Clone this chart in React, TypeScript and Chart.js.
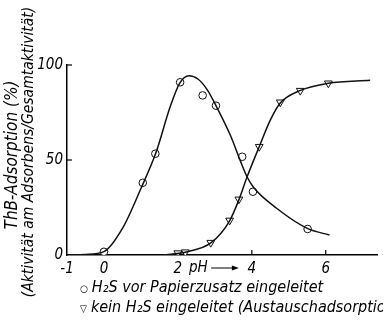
import React, { useEffect, useRef } from "react";
import { Chart, registerables } from "chart.js";

Chart.register(...registerables);

const circlePH = [0, 1.05, 1.39, 2.06, 2.67, 3.03, 3.74, 4.03, 5.51];
const circleVal = [1.7, 38, 53.3, 90.9, 84, 78.6, 51.7, 33.3, 13.7];
const trianglePH = [2.0, 2.2, 2.89, 3.4, 3.65, 4.2, 4.77, 5.31, 6.07];
const triangleVal = [1.0, 1.5, 6.5, 18.2, 29.3, 57, 80.4, 86.5, 90.4];

const curve1PH = [-1, -0.5, 0, 0.5, 1.0, 1.4, 1.8, 2.05, 2.3, 2.55, 2.8, 3.03, 3.42, 3.7, 3.87, 4.05, 4.67, 5.5, 6.1];
const curve1Val = [0, 0.3, 1.8, 14, 35, 53.5, 78.5, 90.5, 94.3, 92.5, 86.8, 78.6, 63, 49, 41.2, 35.5, 24.6, 14, 10.5];
const curve2PH = [1.6, 2.2, 2.9, 3.4, 3.65, 3.87, 4.2, 4.5, 4.77, 5.3, 6.07, 7.2];
const curve2Val = [0, 1.5, 6.5, 18, 29, 41, 57, 71, 80, 86.5, 90.4, 92];

const xTicks = [-1, 0, 2, 4, 6];
const yTicks = [0, 50, 100];

const yTitle1 = "ThB-Adsorption (%)";
const yTitle2 = "(Aktivität am Adsorbens/Gesamtaktivität)";
const xUnit = "pH";
const legend1 = "H₂S vor Papierzusatz eingeleitet";
const legend2 = "kein H₂S eingeleitet (Austauschadsorption)";

const FONT = '"DejaVu Sans Condensed", "DejaVu Sans", sans-serif';

const toXY = (xs: number[], ys: number[]) => xs.map((x, i) => ({ x, y: ys[i] }));

const decorPlugin = {
  id: "decor",
  afterDraw(chart: any) {
    const { ctx, scales } = chart;
    const xs = scales.x;
    const ys = scales.y;
    ctx.save();
    ctx.strokeStyle = "#000";
    ctx.lineWidth = 1.2;
    // inward ticks
    [50, 100].forEach((v) => {
      const y = ys.getPixelForValue(v);
      ctx.beginPath();
      ctx.moveTo(xs.left, y);
      ctx.lineTo(xs.left + 5, y);
      ctx.stroke();
    });
    [4, 6].forEach((v) => {
      const x = xs.getPixelForValue(v);
      ctx.beginPath();
      ctx.moveTo(x, ys.bottom);
      ctx.lineTo(x, ys.bottom - 5);
      ctx.stroke();
    });
    // pH arrow label
    const base = ys.bottom + 13;
    ctx.fillStyle = "#000";
    ctx.font = `italic 15px ${FONT}`;
    ctx.textBaseline = "middle";
    ctx.textAlign = "left";
    const px = xs.getPixelForValue(2.3);
    ctx.fillText(xUnit, px, base);
    const a0 = xs.getPixelForValue(2.9);
    const a1 = xs.getPixelForValue(3.65);
    ctx.lineWidth = 1;
    ctx.beginPath();
    ctx.moveTo(a0, base);
    ctx.lineTo(a1 - 4, base);
    ctx.stroke();
    ctx.beginPath();
    ctx.moveTo(a1, base);
    ctx.lineTo(a1 - 7, base - 2.5);
    ctx.lineTo(a1 - 7, base + 2.5);
    ctx.closePath();
    ctx.fill();
    // rotated y titles
    ctx.textAlign = "center";
    ctx.textBaseline = "middle";
    ctx.save();
    ctx.translate(13, 155);
    ctx.rotate(-Math.PI / 2);
    ctx.font = `italic 17px ${FONT}`;
    ctx.fillText(yTitle1, 0, 0);
    ctx.restore();
    ctx.save();
    ctx.translate(29, 152);
    ctx.rotate(-Math.PI / 2);
    ctx.font = `italic 15.5px ${FONT}`;
    ctx.fillText(yTitle2, 0, 0);
    ctx.restore();
    ctx.restore();
  },
};

export default function App() {
  const ref = useRef<HTMLCanvasElement | null>(null);

  useEffect(() => {
    document.body.style.margin = "0";
    if (!ref.current) return;
    const chart = new Chart(ref.current, {
      type: "scatter",
      data: {
        datasets: [
          {
            type: "line",
            data: toXY(curve1PH, curve1Val),
            borderColor: "#111",
            borderWidth: 1.5,
            pointRadius: 0,
            cubicInterpolationMode: "monotone",
            fill: false,
          },
          {
            type: "line",
            data: toXY(curve2PH, curve2Val),
            borderColor: "#111",
            borderWidth: 1.5,
            pointRadius: 0,
            cubicInterpolationMode: "monotone",
            fill: false,
          },
          {
            data: toXY(circlePH, circleVal),
            pointStyle: "circle",
            pointRadius: 3.8,
            backgroundColor: "#fff",
            borderColor: "#111",
            borderWidth: 1,
          },
          {
            data: toXY(trianglePH, triangleVal),
            pointStyle: "triangle",
            rotation: 180,
            pointRadius: 4.5,
            backgroundColor: "#fff",
            borderColor: "#111",
            borderWidth: 1,
          },
        ],
      } as any,
      options: {
        animation: false,
        responsive: true,
        maintainAspectRatio: false,
        layout: { padding: { top: 65, right: 0, bottom: 0, left: 0 } },
        plugins: {
          legend: { display: false },
          tooltip: { enabled: false },
        },
        scales: {
          x: {
            type: "linear",
            min: -1,
            max: 7.4,
            afterBuildTicks: (s: any) => {
              s.ticks = xTicks.map((v) => ({ value: v }));
            },
            afterFit: (s: any) => {
              s.height = 65;
            },
            grid: { display: false, drawTicks: false },
            border: { display: true, color: "#000", width: 1.5 },
            ticks: {
              color: "#000",
              padding: 5,
              autoSkip: false,
              maxRotation: 0,
              font: { family: FONT, style: "italic", size: 15 },
              callback: (v: any) => String(v),
            },
          },
          y: {
            type: "linear",
            min: 0,
            max: 100,
            afterBuildTicks: (s: any) => {
              s.ticks = yTicks.map((v) => ({ value: v }));
            },
            afterFit: (s: any) => {
              s.width = 67;
            },
            grid: { display: false, drawTicks: false },
            border: { display: true, color: "#000", width: 1.5 },
            ticks: {
              color: "#000",
              padding: 4,
              font: { family: FONT, style: "italic", size: 15 },
            },
          },
        },
      } as any,
      plugins: [decorPlugin],
    });
    return () => chart.destroy();
  }, []);

  const legendStyle: React.CSSProperties = {
    position: "absolute",
    left: 80,
    whiteSpace: "nowrap",
    fontFamily: FONT,
    fontStyle: "italic",
    fontSize: 16,
    color: "#000",
    lineHeight: "18px",
  };

  return (
    <div style={{ position: "relative", width: 383, height: 320, overflow: "hidden", background: "#fff" }}>
      <canvas ref={ref} />
      <div style={{ ...legendStyle, top: 278 }}>
        <span style={{ fontStyle: "normal", fontSize: 10, marginRight: 4 }}>○</span>
        {legend1}
      </div>
      <div style={{ ...legendStyle, top: 298 }}>
        <span style={{ fontStyle: "normal", fontSize: 10, marginRight: 4 }}>▽</span>
        {legend2}
      </div>
    </div>
  );
}
